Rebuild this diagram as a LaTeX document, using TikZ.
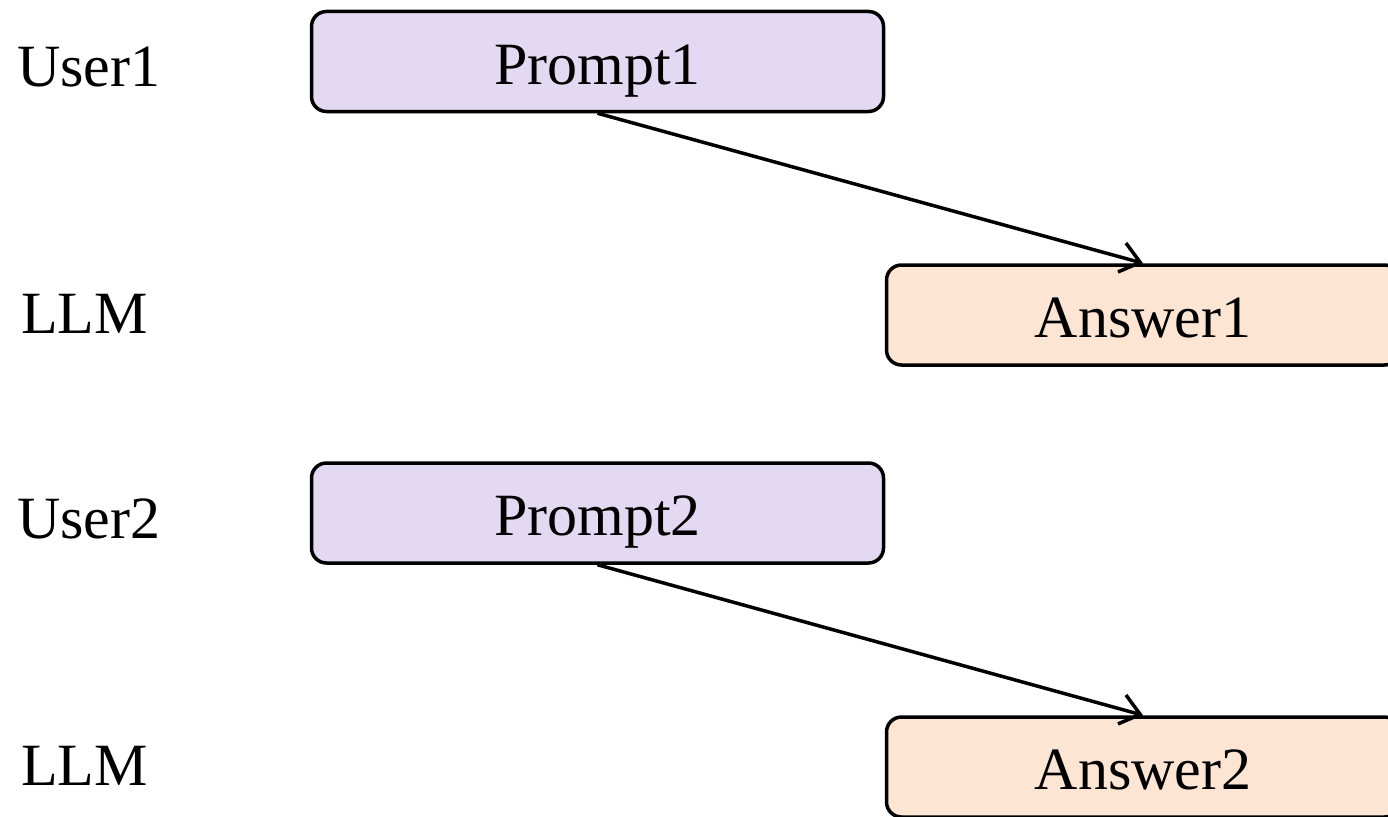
\documentclass[tikz,border=0pt]{standalone}
\usepackage{fontspec}
\setmainfont{Liberation Serif}
\usetikzlibrary{arrows.meta}
\definecolor{promptfill}{HTML}{E4D9F2}
\definecolor{answerfill}{HTML}{FDE5D3}
\tikzset{
  bigtext/.style={font=\fontsize{60}{72}\selectfont},
  msgbox/.style={bigtext, draw=black, line width=3.5pt, rounded corners=15pt,
    minimum height=100pt, text height=52pt, text depth=7pt, inner sep=0pt},
  promptbox/.style={msgbox, fill=promptfill, minimum width=572pt},
  answerbox/.style={msgbox, fill=answerfill, minimum width=513pt},
  rolelabel/.style={bigtext, anchor=base west, inner sep=0pt},
  flow/.style={line width=3.5pt, -{Straight Barb[length=19pt,width=30pt,line width=3.5pt]}}
}
\begin{document}
\begin{tikzpicture}[x=1pt,y=-1pt]
  \useasboundingbox (0,0) rectangle (1388,816);
  \clip (0,0) rectangle (1388,816);

  % speaker labels
  \node[rolelabel] (u1) at (17,86)  {User1};
  \node[rolelabel] (l1) at (21,333) {LLM};
  \node[rolelabel] (u2) at (17,538) {User2};
  \node[rolelabel] (l2) at (21,785) {LLM};

  % messages
  \node[promptbox] (p1) at (597.5,61.5) {Prompt1};
  \node[answerbox] (a1) at (1143,315)   {Answer1};
  \node[promptbox] (p2) at (597.5,513)  {Prompt2};
  \node[answerbox] (a2) at (1143,767)   {Answer2};

  % prompt -> answer
  \draw[flow] (p1.south) -- (a1.north);
  \draw[flow] (p2.south) -- (a2.north);
\end{tikzpicture}
\end{document}
